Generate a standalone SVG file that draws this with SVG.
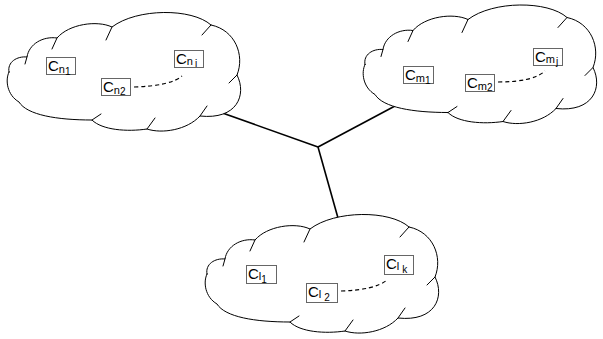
<svg xmlns="http://www.w3.org/2000/svg" width="603" height="339" viewBox="0 0 603 339">
<style>
.cloud{fill:#fff;stroke:#000;stroke-width:1;stroke-linejoin:round;stroke-linecap:round}
.tick{fill:none;stroke:#000;stroke-width:1;stroke-linecap:round}
.box{fill:#fff;stroke:#666;stroke-width:1}
.lbl{font-family:"Liberation Sans",Arial,sans-serif;font-size:15px;fill:#000}
.s1{font-size:11px}
.s2{font-size:10px}
.dash{fill:none;stroke:#000;stroke-width:1.2;stroke-dasharray:4,3}
.conn{fill:none;stroke:#000;stroke-width:1.6}
</style>
<defs>
<g id="cloudShape">
<path class="cloud" d="M2,62 C0,52 10,46 20,47 C22,34 36,26 50,28 C62,14 90,10 105,17 C130,-2 185,-2 204,15 C228,20 238,45 230,65 C240,85 230,110 193,106 C180,120 155,124 140,119 C120,122 95,120 85,110 C50,110 20,105 12,92 C0,85 -2,70 2,62 Z"/>
<path class="tick" d="M20,47 L18,54 M50,28 L45,39 M105,17 L99,30 M204,15 L195,25 M230,65 L222,73 M193,106 L200,96 M140,119 L148,108 M85,110 L94,104"/>
</g>
</defs>
<g id="connectors">
<line class="conn" x1="214" y1="110" x2="318" y2="147"/>
<line class="conn" x1="318" y1="147" x2="395" y2="106"/>
<line class="conn" x1="318" y1="147" x2="338" y2="218"/>
</g>
<g id="cloud-n">
<use href="#cloudShape" transform="translate(7,10) scale(1.0,1)"/>
<g id="cn1"><rect class="box" x="46.5" y="57.5" width="29" height="17"/><text class="lbl" x="48" y="71">C<tspan class="s1" dy="2">n</tspan><tspan class="s2" dy="2">1</tspan></text></g>
<g id="cn2"><rect class="box" x="101.5" y="78.5" width="29" height="17"/><text class="lbl" x="103" y="92">C<tspan class="s1" dy="2">n</tspan><tspan class="s2" dy="1">2</tspan></text></g>
<g id="cni"><rect class="box" x="174.5" y="50.5" width="29" height="17"/><text class="lbl" x="176" y="64">C<tspan class="s1" dy="1">n</tspan><tspan class="s2" dx="2" dy="2">i</tspan></text></g>
<path class="dash" d="M134,87 Q170,86 182,76"/>
</g>
<g id="cloud-m">
<use href="#cloudShape" transform="translate(363,2.5)"/>
<g id="cm1"><rect class="box" x="403.5" y="66.5" width="30" height="17"/><text class="lbl" x="405" y="80">C<tspan class="s1" dy="2">m</tspan><tspan class="s2" dy="2">1</tspan></text></g>
<g id="cm2"><rect class="box" x="465.5" y="74.5" width="29" height="17"/><text class="lbl" x="467" y="88">C<tspan class="s1" dy="2">m</tspan><tspan class="s2" dy="1">2</tspan></text></g>
<g id="cmj"><rect class="box" x="533.5" y="48.5" width="29" height="17"/><text class="lbl" x="535" y="62">C<tspan class="s1" dy="1">m</tspan><tspan class="s2" dx="1" dy="2">j</tspan></text></g>
<path class="dash" d="M498,82 Q533,82 545,71"/>
</g>
<g id="cloud-l">
<use href="#cloudShape" transform="translate(205,212)"/>
<g id="cl1"><rect class="box" x="246.5" y="265.5" width="30" height="18"/><text class="lbl" x="248" y="279">C<tspan class="s1" dy="1">l</tspan><tspan class="s2" dy="3">1</tspan></text></g>
<g id="cl2"><rect class="box" x="306.5" y="283.5" width="31" height="19"/><text class="lbl" x="308" y="297">C<tspan class="s1" dy="1">l</tspan><tspan class="s2" dx="3" dy="3">2</tspan></text></g>
<g id="clk"><rect class="box" x="384.5" y="255.5" width="29" height="19"/><text class="lbl" x="386" y="269">C<tspan class="s1" dy="1">l</tspan><tspan class="s2" dx="3" dy="3">k</tspan></text></g>
<path class="dash" d="M341,291 Q375,290 387,280"/>
</g>
</svg>
